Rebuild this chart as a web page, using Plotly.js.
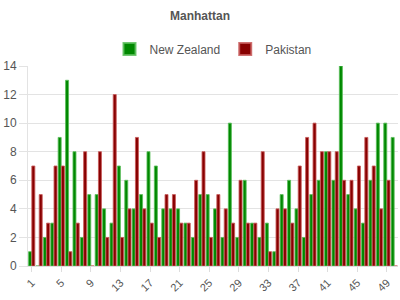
<!DOCTYPE html>
<html>
<head>
<meta charset="utf-8">
<script src="https://cdn.plot.ly/plotly-3.0.1.min.js"></script>
<style>html,body{margin:0;padding:0;background:#fff}#chart{width:400px;height:300px}</style>
</head>
<body>
<div id="chart"></div>
<script>
const categories = Array.from({length: 50}, (_, i) => String(i + 1));
const tickLabels = ["1","5","9","13","17","21","25","29","33","37","41","45","49"];
const newZealand = [1,0,2,3,9,13,8,2,5,5,4,3,7,6,4,5,8,7,4,4,4,3,2,5,5,4,2,10,2,6,3,2,3,1,5,6,4,2,5,6,8,6,14,5,4,3,6,10,10,9];
const pakistan = [7,5,3,7,7,1,3,8,0,8,2,12,2,4,9,4,3,2,5,5,3,3,6,8,2,5,4,3,6,3,3,8,1,4,4,3,7,9,10,8,8,8,6,6,7,9,7,4,6,0];

const traces = [
  {type:'bar', name:'New Zealand', x:categories, y:newZealand,
   marker:{color:'#008800', line:{color:'rgba(90,190,90,0.85)', width:1}}},
  {type:'bar', name:'Pakistan', x:categories, y:pakistan,
   marker:{color:'#880000', line:{color:'rgba(200,90,90,0.85)', width:1}}}
];

const layout = {
  width:400, height:300,
  margin:{l:28, r:2, t:66, b:34},
  paper_bgcolor:'#fff', plot_bgcolor:'#fff',
  font:{family:'Liberation Sans, Arial, sans-serif', size:11, color:'#555'},
  title:{text:'<b>Manhattan</b>', font:{size:12, color:'#555'}, x:0.5, xanchor:'center', y:0.947, yanchor:'middle'},
  barmode:'group', bargap:0.12, bargroupgap:0.08,
  showlegend:true,
  legend:{orientation:'h', x:0.5, xanchor:'center', y:1.085, yanchor:'middle',
          font:{size:12, color:'#555'}, itemsizing:'constant'},
  xaxis:{type:'category', tickmode:'array', tickvals:tickLabels, ticktext:tickLabels,
         tickangle:-45, ticks:'outside', ticklen:5, tickcolor:'#ddd',
         showgrid:false, showline:true, linecolor:'#ddd', zeroline:false,
         tickfont:{size:11, color:'#555'}},
  yaxis:{range:[0,14], dtick:2, showgrid:true, gridcolor:'#e3e3e3',
         ticks:'outside', ticklen:8, tickcolor:'#e3e3e3',
         showline:true, linecolor:'#e3e3e3', zeroline:false,
         tickfont:{size:12, color:'#555'}}
};

Plotly.newPlot('chart', traces, layout, {staticPlot:true, displayModeBar:false});
</script>
</body>
</html>
